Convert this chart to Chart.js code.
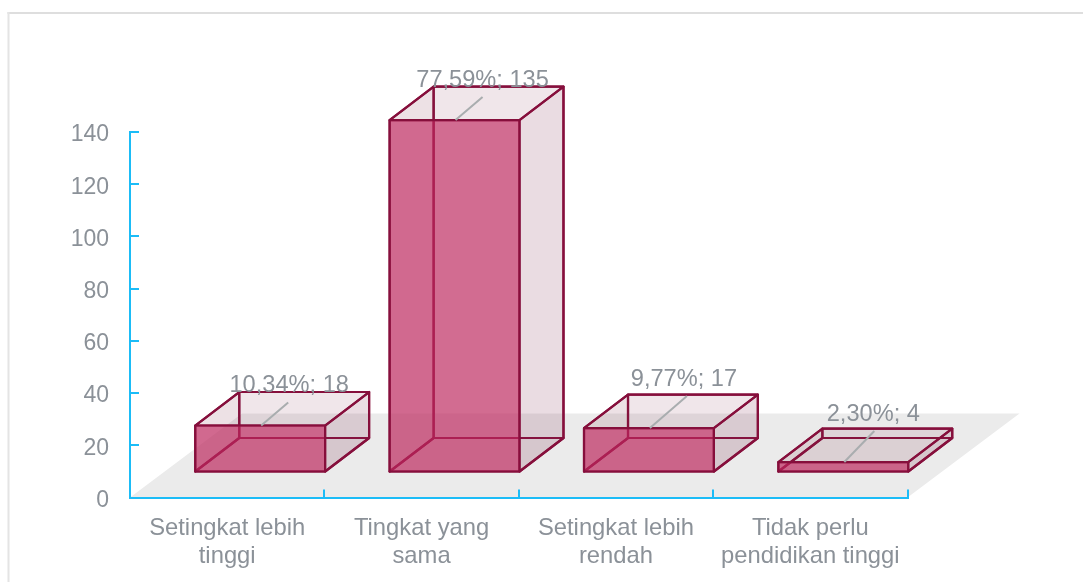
<!DOCTYPE html>
<html><head><meta charset="utf-8">
<style>html,body{margin:0;padding:0;background:#fff}#w{width:1083px;height:582px;position:relative}</style>
<script src="https://cdn.jsdelivr.net/npm/chart.js@4"></script></head>
<body><div id="w"><canvas id="c" width="1083" height="582"></canvas></div>
<script>
const categories = [["Setingkat lebih","tinggi"],["Tingkat yang","sama"],["Setingkat lebih","rendah"],["Tidak perlu","pendidikan tinggi"]];
const values = [18,135,17,4];
const percents = ["10,34%","77,59%","9,77%","2,30%"];
const tickValues = [0,20,40,60,80,100,120,140];

const FONT = '"Liberation Sans", Arial, sans-serif';
const TEXT = '#8b9198', LINE = '#860f3c', AXIS = '#1bbcf7';
const FRONT = {x:33, y:-25};      // shift of the front face from the axis plane
const DEPTH = {x:44, y:-33.5};    // box depth
const FLOOR = {x:112, y:-84};
const LEADERS = [{dx:27,dy:-23,ty:-40,tx:29},{dx:27,dy:-23,ty:-40,tx:28},{dx:37,dy:-32,ty:-49,tx:35},{dx:30,dy:-31,ty:-48,tx:30}];

function poly(ctx, pts, fill, stroke){
  ctx.beginPath();
  pts.forEach((p,i)=> i?ctx.lineTo(p[0],p[1]):ctx.moveTo(p[0],p[1]));
  ctx.closePath();
  if(fill){ctx.fillStyle=fill;ctx.fill();}
  if(stroke){ctx.strokeStyle=stroke;ctx.lineWidth=2.2;ctx.lineJoin='round';ctx.stroke();}
}
function boxes(chart){
  return chart.getDatasetMeta(0).data.map(b=>{
    const h=b.getProps(['x','y','base','width'],false);
    return {l:h.x-h.width/2+FRONT.x, r:h.x+h.width/2+FRONT.x, t:h.y+FRONT.y, b:h.base+FRONT.y, cx:h.x+FRONT.x};
  });
}
const box3d = {
  id:'box3d',
  beforeDraw(chart){
    const {ctx,chartArea:a}=chart;
    ctx.save();
    ctx.fillStyle='#dedede';
    ctx.fillRect(7.5,12,1075.5,2);
    ctx.fillStyle='#e4e4e4';
    ctx.fillRect(7.5,12,2,570);
    poly(ctx,[[a.left,a.bottom],[a.right,a.bottom],[a.right+FLOOR.x,a.bottom+FLOOR.y],[a.left+FLOOR.x,a.bottom+FLOOR.y]],'#ebebeb');
    ctx.restore();
  },
  beforeDatasetsDraw(chart){
    const {ctx}=chart;
    ctx.save();
    boxes(chart).forEach(q=>{
      const d=DEPTH;
      const side='rgba(130,50,80,0.15)', top='rgba(130,50,80,0.10)';
      poly(ctx,[[q.l+d.x,q.t+d.y],[q.r+d.x,q.t+d.y],[q.r+d.x,q.b+d.y],[q.l+d.x,q.b+d.y]],'rgba(130,50,80,0.02)',LINE);
      poly(ctx,[[q.l,q.b],[q.r,q.b],[q.r+d.x,q.b+d.y],[q.l+d.x,q.b+d.y]],'rgba(130,50,80,0.05)',LINE);
      poly(ctx,[[q.l,q.b],[q.l,q.t],[q.l+d.x,q.t+d.y],[q.l+d.x,q.b+d.y]],'rgba(130,50,80,0.05)',LINE);
      poly(ctx,[[q.r,q.b],[q.r,q.t],[q.r+d.x,q.t+d.y],[q.r+d.x,q.b+d.y]],side,LINE);
      poly(ctx,[[q.l,q.t],[q.r,q.t],[q.r+d.x,q.t+d.y],[q.l+d.x,q.t+d.y]],top,LINE);
    });
    ctx.restore();
  },
  beforeDatasetDraw(chart){ chart.ctx.save(); chart.ctx.translate(FRONT.x,FRONT.y); },
  afterDatasetDraw(chart){ chart.ctx.restore(); },
  afterDatasetsDraw(chart){
    const {ctx}=chart;
    ctx.save();
    boxes(chart).forEach((q,i)=>{
      poly(ctx,[[q.l,q.t],[q.r,q.t],[q.r,q.b],[q.l,q.b]],null,LINE);
      const L=LEADERS[i];
      ctx.beginPath();ctx.moveTo(q.cx+1,q.t);ctx.lineTo(q.cx+1+L.dx,q.t+L.dy);
      ctx.strokeStyle='#a9adaf';ctx.lineWidth=2;ctx.stroke();
      ctx.font='23.6px '+FONT;ctx.fillStyle=TEXT;ctx.textAlign='center';ctx.textBaseline='middle';
      ctx.fillText(percents[i]+'; '+values[i],q.cx+L.tx,q.t+L.ty);
    });
    ctx.restore();
  }
};
new Chart(document.getElementById('c'),{
  type:'bar',
  data:{labels:categories,datasets:[{data:values,
    backgroundColor:'rgba(190,40,95,0.68)',borderWidth:0,
    barPercentage:1,categoryPercentage:0.668}]},
  options:{
    responsive:false,animation:false,
    layout:{padding:{left:0,top:132,right:175.5,bottom:0}},
    plugins:{legend:{display:false},title:{display:false},tooltip:{enabled:false}},
    scales:{
      x:{grid:{drawOnChartArea:false,tickLength:-8,color:AXIS,lineWidth:2},
         border:{color:AXIS,width:2},
         ticks:{color:TEXT,font:{family:FONT,size:23.8,lineHeight:1.18},padding:25,maxRotation:0,autoSkip:false},
         afterFit(s){s.height=84.5;}},
      y:{min:0,max:140,
         afterBuildTicks(s){s.ticks=tickValues.map(v=>({value:v}));},
         grid:{drawOnChartArea:false,tickLength:-9,color:AXIS,lineWidth:2},
         border:{color:AXIS,width:2},
         ticks:{color:TEXT,font:{family:FONT,size:23},padding:30,labelOffset:3},
         afterFit(s){s.width=130;}}
    }
  },
  plugins:[box3d]
});
</script></body></html>
